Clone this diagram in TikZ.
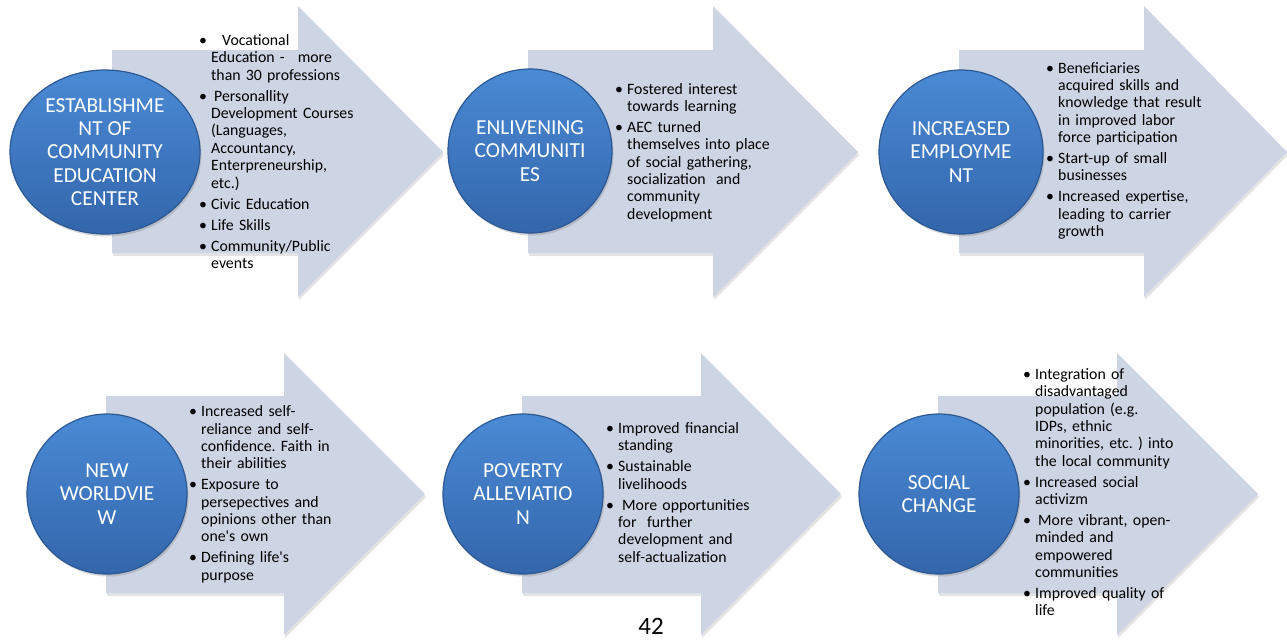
\documentclass[tikz,border=0pt]{standalone}
\usepackage{fontspec}
\setmainfont{Carlito}
\usetikzlibrary{shadows,shapes.geometric}

\definecolor{arrowfill}{HTML}{CDD4E3}
\definecolor{discTop}{HTML}{4A8AD5}
\definecolor{discBottom}{HTML}{3366AB}
\definecolor{discRim}{HTML}{2C5893}

\frenchspacing

% bullet paragraph with hanging indent; optional argument = extra space after the bullet
\newcommand{\pitem}[2][0pt]{\noindent\hangindent=12pt\hangafter=1\makebox[12pt][l]{\textbullet}\hspace*{#1}#2\par\vspace{3.7pt}}

% block arrow: shaft left, head base, tip x, shaft top, shaft bottom, head top, head bottom, centre y
\newcommand{\flowarrow}[8]{%
  \fill[arrowbody] (#1,#4) -- (#2,#4) -- (#2,#6) -- (#3,#8) -- (#2,#7) -- (#2,#5) -- (#1,#5) -- cycle;}

\tikzset{
  arrowbody/.style={fill=arrowfill,
    drop shadow={shadow xshift=1pt, shadow yshift=-3pt, opacity=0.22}},
  disc/.style={shape=ellipse, inner sep=0pt, top color=discTop, bottom color=discBottom,
    draw=discRim, line width=1.2pt, text=white, align=center,
    font=\fontsize{21.4}{23.4}\selectfont,
    drop shadow={shadow xshift=1.5pt, shadow yshift=-2.5pt, opacity=0.3}},
  notes/.style={anchor=base west, inner sep=0pt, text width=230pt,
    font=\fontsize{15.8}{17.35}\selectfont},
}

\begin{document}
\begin{tikzpicture}[x=1pt, y=-1pt]
\useasboundingbox (0,0) rectangle (1287,641);

% top row of arrows
\flowarrow{112}{298}{443}{50}{253}{6}{297}{152}
\flowarrow{528}{713}{858}{50}{253}{6}{297}{152}
\flowarrow{959}{1144}{1287}{50}{253}{6}{297}{152}
% bottom row of arrows
\flowarrow{106}{284}{425}{396}{593}{353}{635}{494}
\flowarrow{522}{701}{841}{396}{593}{353}{635}{494}
\flowarrow{938}{1117}{1258}{396}{593}{353}{635}{494}

% stage discs
\node[disc, minimum width=190pt, minimum height=164pt] (c1) at (105,152)
  {ESTABLISHME\\NT OF\\COMMUNITY\\EDUCATION\\CENTER};
\node[disc, minimum width=164pt, minimum height=164pt] (c2) at (530,151)
  {ENLIVENING\\COMMUNITI\\ES};
\node[disc, minimum width=164pt, minimum height=164pt] (c3) at (961,152)
  {INCREASED\\EMPLOYME\\NT};
\node[disc, minimum width=160pt, minimum height=160pt] (c4) at (107,494)
  {NEW\\WORLDVIE\\W};
\node[disc, minimum width=160pt, minimum height=160pt] (c5) at (523,494)
  {POVERTY\\ALLEVIATIO\\N};
\node[disc, minimum width=160pt, minimum height=160pt] (c6) at (939,494)
  {SOCIAL\\CHANGE};

% bullet lists
\node[notes] (t1) at (199,45.5) {%
  \pitem[11pt]{Vocational\newline Education -\hspace{13pt}more\newline than 30 professions}
  \pitem[3pt]{Personallity\newline Development Courses\newline (Languages,\newline Accountancy,\newline Enterpreneurship,\newline etc.)}
  \pitem{Civic Education}
  \pitem{Life Skills}
  \pitem{Community/Public\newline events}};

\node[notes] (t2) at (615,94) {%
  \pitem{Fostered interest\newline towards learning}
  \pitem{AEC turned\newline themselves into place\newline of social gathering,\newline socialization\ \ and\newline community\newline development}};

\node[notes] (t3) at (1046,73) {%
  \pitem{Beneficiaries\newline acquired skills and\newline knowledge that result\newline in improved labor\newline force participation}
  \pitem{Start-up of small\newline businesses}
  \pitem{Increased expertise,\newline leading to carrier\newline growth}};

\node[notes] (t4) at (189,416.7) {%
  \pitem{Increased self-\newline reliance and self-\newline confidence. Faith in\newline their abilities}
  \pitem{Exposure to\newline persepectives and\newline opinions other than\newline one\textquotesingle s own}
  \pitem{Defining life\textquotesingle s\newline purpose}};

\node[notes] (t5) at (606,433.3) {%
  \pitem{Improved financial\newline standing}
  \pitem{Sustainable\newline livelihoods}
  \pitem[4pt]{More opportunities\newline for\ \ further\newline development and\newline self-actualization}};

\node[notes] (t6) at (1023,379.3) {%
  \pitem{Integration of\newline disadvantaged\newline population (e.g.\newline IDPs, ethnic\newline minorities, etc. ) into\newline the local community}
  \pitem{Increased social\newline activizm}
  \pitem[3pt]{More vibrant, open-\newline minded and\newline empowered\newline communities}
  \pitem{Improved quality of\newline life}};

% page number
\node[anchor=base, inner sep=0pt, font=\fontsize{25}{28}\selectfont] (pg) at (651,634) {42};
\end{tikzpicture}
\end{document}
